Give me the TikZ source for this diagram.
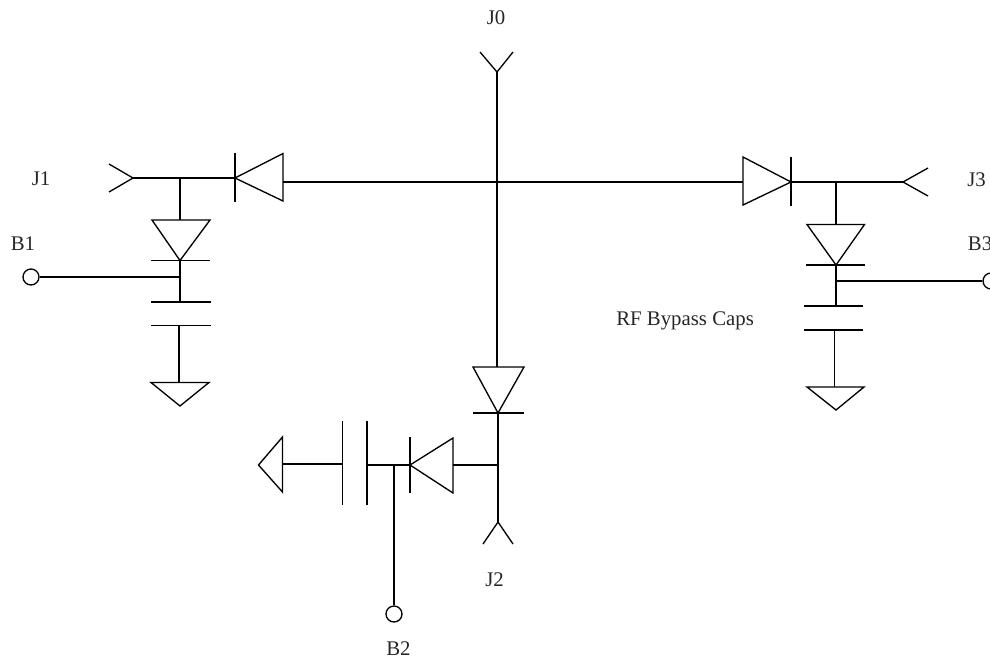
\documentclass[tikz,border=0pt]{standalone}
\usepackage{fontspec}
\setmainfont{Liberation Serif}
\begin{document}
\begin{tikzpicture}[scale=0.25,
	wire/.style={black,line width=0.95pt},
	terminal/.style={circle,draw=black,line width=0.95pt,minimum size=0.4cm},
	tag/.style={text=black!85,font=\fontsize{14.8}{16}\selectfont}]
	\tikzstyle{every node}+=[inner sep=0pt]
	\useasboundingbox (0,0) rectangle (99,-65.8);
	% labels
	\node [tag] (labj0) at (49.6,-1.8) {J0};
	\node [tag] (labj1) at (4.1,-17.9) {J1};
	\node [tag] (labj2) at (49.45,-57.95) {J2};
	\node [tag] (labj3) at (97.65,-18) {J3};
	\node [tag] (labb1) at (2.3,-24.35) {B1};
	\node [tag] (labb2) at (39.85,-64.9) {B2};
	\node [tag] (labb3) at (98,-24.35) {B3};
	\node [tag,anchor=west] (labrf) at (61.6,-32.05) {RF Bypass Caps};
	% terminals
	\node [terminal] (b1) at (3.1,-27.7) {};
	\node [terminal] (b2) at (39.4,-61.4) {};
	\node [terminal] (b3) at (99.1,-28.1) {};
	% connector ends
	\coordinate (j0) at (49.7,-7.2);
	\coordinate (j1) at (13.3,-17.8);
	\coordinate (j2) at (49.8,-52.2);
	\coordinate (j3) at (90.3,-18.2);
	\coordinate (d0l) at (28.3,-18.2);
	\coordinate (d0r) at (74.3,-18.2);
	\coordinate (d0t) at (49.7,-36.7);
	\coordinate (d1k) at (23.5,-17.8);
	\coordinate (d3k) at (79.1,-18.2);
	\coordinate (d2k) at (49.8,-41.3);
	\coordinate (n1) at (18,-17.8);
	\coordinate (n3) at (83.6,-18.2);
	\coordinate (n2) at (49.8,-46.5);
	% J0 and the cross
	\draw [wire] (48,-5.2) -- (j0) -- (51.3,-5.2);
	\draw [wire] (j0) -- (d0t);
	\draw [wire] (d0l) -- (d0r);
	% J1 branch
	\draw [wire] (10.9,-16.4) -- (j1) -- (10.9,-19.2);
	\draw [wire] (j1) -- (d1k);
	\draw [wire] (d1k) -- (28.3,-15.35) -- (28.3,-20.1) -- cycle;
	\draw [wire] (23.5,-15.3) -- (23.5,-20.2);
	\draw [wire] (n1) -- (18,-22);
	\draw [wire] (15.2,-22) -- (21,-22) -- (18,-26.05) -- cycle;
	\draw [wire] (15.1,-26.05) -- (21,-26.05);
	\draw [wire] (18,-26.05) -- (18,-30.2);
	\draw [wire] (15.1,-30.2) -- (21.1,-30.2);
	\draw [wire] (15.1,-32.55) -- (21.1,-32.55);
	\draw [wire] (17.9,-32.55) -- (17.9,-38.25);
	\draw [wire] (15.1,-38.25) -- (20.9,-38.25) -- (18,-40.6) -- cycle;
	\coordinate (t1) at (18,-27.7);
	\draw [wire] (b1) -- (t1);
	% J3 branch
	\draw [wire] (92.8,-16.8) -- (j3) -- (92.8,-19.6);
	\draw [wire] (d3k) -- (j3);
	\draw [wire] (74.3,-15.7) -- (74.3,-20.5) -- (d3k) -- cycle;
	\draw [wire] (79.1,-15.7) -- (79.1,-20.6);
	\draw [wire] (n3) -- (83.6,-22.45);
	\draw [wire] (80.7,-22.45) -- (86.45,-22.45) -- (83.6,-26.5) -- cycle;
	\draw [wire] (80.6,-26.5) -- (86.5,-26.5);
	\draw [wire] (83.6,-26.5) -- (83.6,-30.6);
	\draw [wire] (80.4,-30.6) -- (86.3,-30.6);
	\draw [wire] (80.4,-33) -- (86.3,-33);
	\draw [wire] (83.45,-33) -- (83.45,-38.7);
	\draw [wire] (80.7,-38.7) -- (86.4,-38.7) -- (83.6,-41) -- cycle;
	\coordinate (t3) at (83.6,-28.1);
	\draw [wire] (t3) -- (b3);
	% J2 branch
	\draw [wire] (48.3,-54.4) -- (j2) -- (51.3,-54.4);
	\draw [wire] (47.3,-36.7) -- (52.4,-36.7) -- (d2k) -- cycle;
	\draw [wire] (47.3,-41.3) -- (52.4,-41.3);
	\draw [wire] (d2k) -- (j2);
	\draw [wire] (n2) -- (45.3,-46.5);
	\draw [wire] (45.3,-43.8) -- (45.3,-49.3) -- (41,-46.5) -- cycle;
	\draw [wire] (41,-43.7) -- (41,-49.3);
	\coordinate (d4k) at (41,-46.5);
	\coordinate (c2) at (36.7,-46.5);
	\coordinate (t2) at (39.4,-46.5);
	\draw [wire] (d4k) -- (c2);
	\draw [wire] (t2) -- (b2);
	\draw [wire] (36.7,-42.1) -- (36.7,-50.5);
	\draw [wire] (34.25,-42.1) -- (34.25,-50.5);
	\draw [wire] (34.25,-46.4) -- (28.25,-46.4);
	\draw [wire] (28.25,-43.7) -- (28.25,-49.2) -- (25.85,-46.5) -- cycle;
\end{tikzpicture}
\end{document}
